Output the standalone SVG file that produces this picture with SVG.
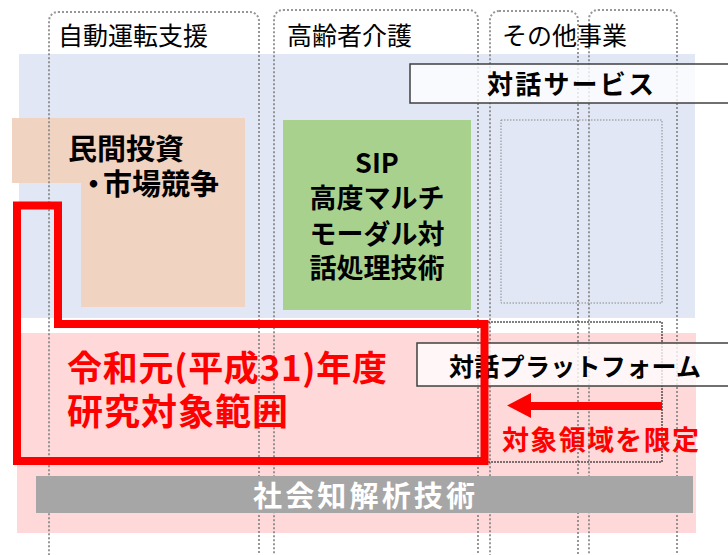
<svg xmlns="http://www.w3.org/2000/svg" width="728" height="555" viewBox="0 0 728 555">
<style>
text{font-family:"Noto Sans CJK JP","Noto Sans",sans-serif}
.hdr{font-size:25px;fill:#000}
.b{font-weight:700}
.col{fill:none;stroke:#858585;stroke-width:2;stroke-dasharray:2 2;opacity:.85}
.tbox{fill:#fff;fill-opacity:.78;stroke:#404040;stroke-width:1.5}
.red{fill:#ff0000}
</style>
<rect id="bg-blue" x="19" y="54" width="676" height="264" fill="#e1e7f4"/>
<rect id="bg-pink" x="17" y="333" width="679" height="200" fill="#ffd9d9"/>
<g id="node-private">
<path d="M12 118H245V307H81V183H12Z" fill="#f1d3c2"/>
<text class="b" font-size="29"><tspan x="68" y="160">民間投資</tspan><tspan x="79 103 132 161 190" y="195">・市場競争</tspan></text>
</g>
<g id="node-sip">
<rect x="283" y="120" width="188" height="190" fill="#a9d18e"/>
<text class="b" font-size="27" text-anchor="middle"><tspan x="377" y="173">SIP</tspan><tspan x="377" y="208">高度マルチ</tspan><tspan x="377" y="244">モーダル対</tspan><tspan x="377" y="278">話処理技術</tspan></text>
</g>
<rect id="node-other" x="501" y="120" width="161" height="183" fill="none" stroke="#8a8a8a" stroke-width="1" stroke-dasharray="1.5 1.5"/>
<g id="columns">
<rect class="col" x="49" y="12" width="210" height="552" rx="9"/>
<rect class="col" x="274" y="10" width="204" height="554" rx="9"/>
<rect class="col" x="490" y="11" width="88" height="553" rx="9"/>
<rect class="col" x="589" y="10" width="88" height="554" rx="9"/>
<text class="hdr" x="58" y="45">自動運転支援</text>
<text class="hdr" x="287" y="45">高齢者介護</text>
<text class="hdr" x="502" y="45">その他事業</text>
</g>
<g id="node-service">
<rect class="tbox" x="410" y="64" width="322" height="39"/>
<text class="b" font-size="26" x="487" y="94" textLength="167" lengthAdjust="spacing">対話サービス</text>
</g>
<rect id="node-target" x="485" y="322" width="177" height="140" fill="none" stroke="#000" stroke-width="1" stroke-dasharray="2 1"/>
<g id="node-platform">
<rect class="tbox" x="417" y="343" width="316" height="43"/>
<text class="b" font-size="25" x="449" y="376" textLength="252" lengthAdjust="spacing">対話プラットフォーム</text>
</g>
<g id="node-scope">
<path d="M17 205.5H58V324H484.5V461H17Z" fill="none" stroke="#ff0000" stroke-width="8"/>
<text class="b red"><tspan x="67" y="381" font-size="35" textLength="320" lengthAdjust="spacing">令和元(平成31)年度</tspan><tspan x="67" y="425" font-size="36" textLength="221" lengthAdjust="spacing">研究対象範囲</tspan></text>
</g>
<g id="node-social">
<rect x="36" y="476" width="657" height="37" fill="#a6a6a6"/>
<text class="b" font-size="29" fill="#fff" x="253" y="507" textLength="222" lengthAdjust="spacing">社会知解析技術</text>
</g>
<g id="connectors">
<path d="M662 406H528" stroke="#ff0000" stroke-width="8" fill="none"/>
<path d="M507 405.5L531 393V418Z" fill="#ff0000"/>
<text class="b red" font-size="27" x="502" y="450" textLength="197" lengthAdjust="spacing">対象領域を限定</text>
</g>
</svg>
